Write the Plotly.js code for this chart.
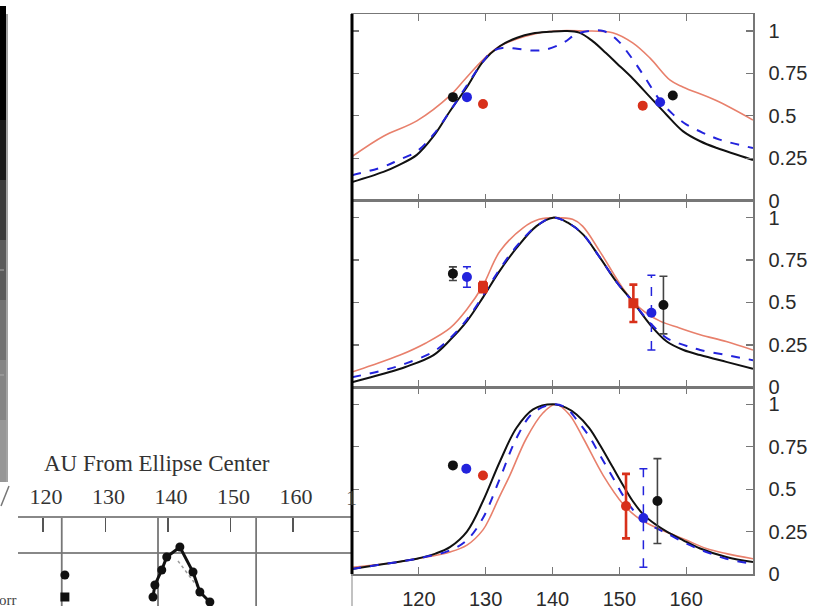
<!DOCTYPE html>
<html>
<head>
<meta charset="utf-8">
<script src="https://cdn.plot.ly/plotly-3.0.1.min.js"></script>
<style>
  html, body { margin: 0; padding: 0; background: #fff; }
  #chart { width: 817px; height: 606px; }
</style>
</head>
<body>
<div id="chart"></div>
<script>
// ---- shared ticks ----
const xTicks = [120, 130, 140, 150, 160];
const yTicks = [0, 0.25, 0.5, 0.75, 1];
const yTickText = ['0', '0.25', '0.5', '0.75', '1'];

// ---- panel 1 (top) model profiles ----
const p1BlackX = [110, 114.7, 117, 119.7, 122.2, 124.7, 127.2, 129.6, 132.1, 134.7, 137, 139.6, 142, 144, 146, 148, 149.6, 152, 154.6, 157.1, 159.5, 162.1, 164.6, 170];
const p1BlackY = [0.11, 0.17, 0.21, 0.27, 0.38, 0.53, 0.67, 0.82, 0.91, 0.96, 0.985, 0.995, 1.0, 0.99, 0.94, 0.87, 0.81, 0.72, 0.61, 0.505, 0.41, 0.35, 0.31, 0.24];
const p1BlueX = [110, 114.7, 117, 119.7, 122.2, 124.7, 127.2, 129.6, 131, 132.5, 134.7, 137, 139, 141.6, 143.5, 145.5, 147.6, 149.6, 151.5, 153.6, 156.1, 158, 160, 162.5, 165, 170];
const p1BlueY = [0.15, 0.20, 0.24, 0.29, 0.39, 0.53, 0.68, 0.82, 0.88, 0.90, 0.895, 0.885, 0.89, 0.93, 0.98, 1.0, 1.0, 0.95, 0.86, 0.74, 0.59, 0.51, 0.45, 0.40, 0.36, 0.31];
const p1RedX = [110, 114.7, 119.7, 124.7, 127, 129.6, 132.1, 137, 140.5, 144.5, 149, 152, 154.6, 157.6, 159.5, 164.5, 170];
const p1RedY = [0.26, 0.38, 0.47, 0.62, 0.72, 0.83, 0.91, 0.98, 1.0, 1.0, 0.99, 0.93, 0.84, 0.71, 0.67, 0.59, 0.475];
// panel 1 measured points
const p1PtBlackX = [125.1, 158.0], p1PtBlackY = [0.61, 0.62], p1PtBlackErr = [0, 0];
const p1PtBlueX = [127.2, 156.1], p1PtBlueY = [0.61, 0.58], p1PtBlueErr = [0, 0];
const p1PtRedX = [129.6, 153.5], p1PtRedY = [0.57, 0.56], p1PtRedErr = [0, 0];

// ---- panel 2 (middle) model profiles ----
const p2BlackX = [110, 114.7, 118, 122.2, 124.7, 127.2, 129.6, 132, 134.6, 137.6, 140.1, 142.3, 144.6, 147, 149.6, 152.1, 154.6, 157.1, 159.6, 162.1, 166, 170];
const p2BlackY = [0.03, 0.08, 0.12, 0.19, 0.28, 0.39, 0.53, 0.68, 0.82, 0.95, 1.0, 0.97, 0.90, 0.77, 0.62, 0.50, 0.37, 0.27, 0.22, 0.19, 0.15, 0.11];
const p2BlueX = [110, 114.7, 118, 122.2, 124.7, 127.2, 129.6, 132, 134.6, 137.6, 140.1, 142.3, 144.6, 147, 149.6, 152.1, 154.6, 157.1, 159.6, 162.1, 166, 170];
const p2BlueY = [0.06, 0.10, 0.14, 0.21, 0.29, 0.40, 0.54, 0.69, 0.83, 0.95, 1.0, 0.97, 0.90, 0.77, 0.62, 0.50, 0.38, 0.29, 0.25, 0.22, 0.19, 0.16];
const p2RedX = [110, 113, 117.2, 121, 124.7, 127.2, 129.6, 132.1, 135.6, 138, 140.5, 143, 144.5, 147.1, 150.6, 153, 156.1, 159, 162.1, 166, 170];
const p2RedY = [0.09, 0.13, 0.19, 0.26, 0.35, 0.46, 0.60, 0.80, 0.94, 0.99, 1.0, 0.99, 0.95, 0.80, 0.58, 0.47, 0.39, 0.35, 0.31, 0.27, 0.22];
// panel 2 measured points
const p2PtBlackX = [125.1, 156.6], p2PtBlackY = [0.67, 0.485], p2PtBlackErr = [0.04, 0.17];
const p2PtBlueX = [127.2, 154.8], p2PtBlueY = [0.65, 0.44], p2PtBlueErr = [0.06, 0.22];
const p2PtRedX = [129.6, 152.1], p2PtRedY = [0.59, 0.495], p2PtRedErr = [0.03, 0.11];

// ---- panel 3 (bottom) model profiles ----
const p3BlackX = [110, 115, 119.7, 122.5, 124.7, 127.2, 129.6, 132.1, 134.6, 137.1, 140.1, 142, 143.6, 145.5, 147.1, 149, 150.6, 152, 153.6, 155.5, 157.1, 159.5, 162.1, 166, 170];
const p3BlackY = [0.03, 0.06, 0.09, 0.12, 0.16, 0.25, 0.43, 0.66, 0.86, 0.97, 1.0, 0.98, 0.94, 0.86, 0.76, 0.63, 0.52, 0.43, 0.35, 0.29, 0.25, 0.20, 0.15, 0.10, 0.07];
const p3BlueX = [110, 115, 119.7, 124.7, 127.2, 129.6, 132.1, 134.6, 137.1, 140.1, 142, 143.6, 145.5, 147.1, 149, 150.6, 152, 153.6, 155.5, 157.1, 160, 163, 166, 170];
const p3BlueY = [0.03, 0.06, 0.09, 0.14, 0.20, 0.33, 0.56, 0.80, 0.95, 1.0, 0.98, 0.91, 0.81, 0.70, 0.57, 0.46, 0.38, 0.32, 0.27, 0.24, 0.18, 0.13, 0.09, 0.06];
const p3RedX = [110, 115, 119.7, 124.7, 127.2, 129.6, 130.6, 132, 133.6, 136.1, 138.6, 140.5, 142.5, 144.6, 147.6, 150.6, 152.5, 154.6, 157.5, 160, 163, 166, 170];
const p3RedY = [0.04, 0.06, 0.09, 0.13, 0.17, 0.26, 0.33, 0.45, 0.58, 0.80, 0.95, 1.0, 0.94, 0.80, 0.58, 0.41, 0.34, 0.29, 0.24, 0.20, 0.15, 0.12, 0.09];
// panel 3 measured points
const p3PtBlackX = [125.1, 155.7], p3PtBlackY = [0.64, 0.43], p3PtBlackErr = [0, 0.25];
const p3PtBlueX = [127.1, 153.6], p3PtBlueY = [0.62, 0.33], p3PtBlueErr = [0, 0.29];
const p3PtRedX = [129.6, 151.0], p3PtRedY = [0.58, 0.40], p3PtRedErr = [0, 0.19];

// ---- left inset: brightness cut vs. AU from ellipse center ----
const leftTicks = [120, 130, 140, 150, 160];
const leftCutX = [137.6, 137.9, 139.0, 139.8, 141.9, 144.0, 145.1, 146.7];
const leftCutY = [0.56, 0.68, 0.83, 0.96, 1.06, 0.81, 0.61, 0.51];
const leftModelX = [141.6, 144.0, 146.7];
const leftModelY = [0.92, 0.72, 0.50];
const leftKeyX = [123.5, 123.5];
const leftKeyY = [0.78, 0.56];
const leftKeySymbols = ['circle', 'square'];
const leftRefLinesX = [123.0, 138.4, 154.1];

// ---- styling ----
const BLACK = '#111111', BLUE = '#2323dc', RED_LINE = '#e8806c', RED_PT = '#d8301a';
const W = 817, H = 606;
const px = v => v / W;           // pixel column -> paper fraction
const py = v => 1 - v / H;       // pixel row -> paper fraction

const panels = [
  {ax: '', bx: p1BlackX, by: p1BlackY, ux: p1BlueX, uy: p1BlueY, rx: p1RedX, ry: p1RedY,
   pk: [p1PtBlackX, p1PtBlackY, p1PtBlackErr], pb: [p1PtBlueX, p1PtBlueY, p1PtBlueErr], pr: [p1PtRedX, p1PtRedY, p1PtRedErr], redSym: 'circle'},
  {ax: '2', bx: p2BlackX, by: p2BlackY, ux: p2BlueX, uy: p2BlueY, rx: p2RedX, ry: p2RedY,
   pk: [p2PtBlackX, p2PtBlackY, p2PtBlackErr], pb: [p2PtBlueX, p2PtBlueY, p2PtBlueErr], pr: [p2PtRedX, p2PtRedY, p2PtRedErr], redSym: 'square'},
  {ax: '3', bx: p3BlackX, by: p3BlackY, ux: p3BlueX, uy: p3BlueY, rx: p3RedX, ry: p3RedY,
   pk: [p3PtBlackX, p3PtBlackY, p3PtBlackErr], pb: [p3PtBlueX, p3PtBlueY, p3PtBlueErr], pr: [p3PtRedX, p3PtRedY, p3PtRedErr], redSym: 'circle'}
];

const traces = [];
panels.forEach(p => {
  const xa = 'x' + p.ax, ya = 'y' + p.ax;
  const lineTrace = (x, y, color, width, dash) => ({
    x, y, xaxis: xa, yaxis: ya, type: 'scatter', mode: 'lines',
    line: {color, width, dash, shape: 'spline', smoothing: 1.0}, hoverinfo: 'skip'
  });
  traces.push(lineTrace(p.rx, p.ry, RED_LINE, 1.6, 'solid'));
  traces.push(lineTrace(p.bx, p.by, BLACK, 2, 'solid'));
  traces.push(lineTrace(p.ux, p.uy, BLUE, 2, 'dash'));

  // dashed blue error bars with solid caps, built from the point arrays
  const stemX = [], stemY = [], capX = [], capY = [];
  p.pb[0].forEach((x, i) => {
    const y = p.pb[1][i], e = p.pb[2][i];
    if (e > 0) {
      stemX.push(x, x, null); stemY.push(y - e, y + e, null);
      capX.push(x - 0.6, x + 0.6, null, x - 0.6, x + 0.6, null);
      capY.push(y + e, y + e, null, y - e, y - e, null);
    }
  });
  traces.push({x: stemX, y: stemY, xaxis: xa, yaxis: ya, type: 'scatter', mode: 'lines',
    line: {color: BLUE, width: 1.5, dash: 'dash'}, hoverinfo: 'skip'});
  traces.push({x: capX, y: capY, xaxis: xa, yaxis: ya, type: 'scatter', mode: 'lines',
    line: {color: BLUE, width: 1.5}, hoverinfo: 'skip'});

  const pts = (d, color, sym, errColor, errW) => ({
    x: d[0], y: d[1], xaxis: xa, yaxis: ya, type: 'scatter', mode: 'markers',
    marker: {color, size: 10, symbol: sym},
    error_y: {type: 'data', array: d[2], visible: true, color: errColor, thickness: errW, width: 4},
    hoverinfo: 'skip'
  });
  traces.push(pts(p.pr, RED_PT, p.redSym, RED_PT, 2.6));
  traces.push(pts(p.pk, BLACK, 'circle', '#444', 1.6));
  traces.push({x: p.pb[0], y: p.pb[1], xaxis: xa, yaxis: ya, type: 'scatter', mode: 'markers',
    marker: {color: BLUE, size: 10}, hoverinfo: 'skip'});
});

// left inset traces
traces.push({x: leftModelX, y: leftModelY, xaxis: 'x4', yaxis: 'y4', type: 'scatter', mode: 'lines',
  line: {color: '#999', width: 1.5, dash: 'dot'}, hoverinfo: 'skip'});
traces.push({x: leftCutX, y: leftCutY, xaxis: 'x4', yaxis: 'y4', type: 'scatter', mode: 'lines+markers',
  line: {color: BLACK, width: 3}, marker: {color: BLACK, size: 9}, hoverinfo: 'skip'});
traces.push({x: leftKeyX, y: leftKeyY, xaxis: 'x4', yaxis: 'y4', type: 'scatter', mode: 'markers',
  marker: {color: BLACK, size: 9, symbol: leftKeySymbols}, hoverinfo: 'skip'});

// ---- axes ----
const X0 = 352, X1 = 753, TOP = 14, BOT = 574;
const ph = (BOT - TOP) / 3;
const tickFont = {family: 'Liberation Sans, Arial, sans-serif', size: 20, color: '#2a2a2a'};

function xAxis(yAnchor, showLabels) {
  return {
    domain: [px(X0), px(X1)], anchor: yAnchor, range: [110, 170],
    tickvals: xTicks, ticktext: xTicks.map(String), ticks: 'inside', ticklen: 7, tickwidth: 1.3, tickcolor: '#777',
    mirror: 'allticks', showline: true, linecolor: '#777', linewidth: 1.5,
    showgrid: false, zeroline: false, showticklabels: showLabels, tickfont: tickFont,
    ticklabelstandoff: 6
  };
}
function yAxis(xAnchor, i) {
  const top = TOP + ph * i, bot = TOP + ph * (i + 1);
  return {
    domain: [py(bot), py(top)], anchor: xAnchor, side: 'right', range: [0, 1.1],
    tickvals: yTicks, ticktext: yTickText, ticks: 'inside', ticklen: 7, tickwidth: 1.3, tickcolor: '#777',
    mirror: 'allticks', showline: true, linecolor: '#777', linewidth: 1.5,
    showgrid: false, zeroline: false, tickfont: tickFont, ticklabelstandoff: 10
  };
}

const LX0 = 18, LX1 = 352, LTOP = 518;
const serif = 'Liberation Serif, Times New Roman, serif';

const layout = {
  width: W, height: H,
  margin: {l: 0, r: 0, t: 0, b: 0},
  paper_bgcolor: '#fff', plot_bgcolor: 'rgba(0,0,0,0)',
  showlegend: false,
  font: {family: 'Liberation Sans, Arial, sans-serif'},
  xaxis: xAxis('y', false), yaxis: yAxis('x', 0),
  xaxis2: xAxis('y2', false), yaxis2: yAxis('x2', 1),
  xaxis3: xAxis('y3', true), yaxis3: yAxis('x3', 2),
  xaxis4: {
    domain: [px(LX0), px(LX1)], anchor: 'y4', side: 'top', range: [116, 169.44],
    tickvals: leftTicks, ticktext: leftTicks.map(String), ticks: 'inside', ticklen: 14, tickwidth: 1.6,
    tickcolor: '#555', showline: true, linecolor: '#888', linewidth: 2.2,
    showgrid: false, zeroline: false,
    tickfont: {family: serif, size: 22, color: '#333'}, ticklabelstandoff: 3, ticklabelshift: 3
  },
  yaxis4: {domain: [0, py(LTOP)], anchor: 'x4', range: [0.47, 1.35], visible: false},
  shapes: [],
  annotations: [
    {text: 'AU From Ellipse Center', xref: 'paper', yref: 'paper', x: px(157), y: py(463),
     xanchor: 'center', yanchor: 'middle', showarrow: false, font: {family: serif, size: 23, color: '#333'}},
    {text: '1', xref: 'paper', yref: 'paper', x: px(344), y: py(498),
     xanchor: 'left', yanchor: 'middle', showarrow: false, font: {family: serif, size: 22, color: '#333'}},
    {text: 'Corr', xref: 'paper', yref: 'paper', x: px(19), y: py(600),
     xanchor: 'right', yanchor: 'middle', showarrow: false, font: {family: serif, size: 15, color: '#444'}}
  ]
};

// inset reference lines
layout.shapes.push({type: 'line', xref: 'x4 domain', yref: 'y4', x0: 0, x1: 1, y0: 1, y1: 1,
  line: {color: '#888', width: 2.2}, layer: 'below'});
leftRefLinesX.forEach(x => layout.shapes.push({type: 'line', xref: 'x4', yref: 'y4 domain',
  x0: x, x1: x, y0: 0, y1: 1, line: {color: '#777', width: 1.8}, layer: 'below'}));

// frame edge of the left figure: dark bar fading to grey
const barShades = [['#000', 0, 120], ['#1a1a1a', 120, 180], ['#3c3c3c', 180, 240], ['#5a5a5a', 240, 300],
                   ['#717171', 300, 360], ['#858585', 360, 420], ['#979797', 420, 482]];
barShades.forEach(([c, a, b]) => layout.shapes.push({type: 'rect', xref: 'paper', yref: 'paper',
  x0: px(0), x1: px(6), y0: py(b), y1: py(a + (a === 0 ? 6 : 0)), fillcolor: c, line: {width: 0}}));
layout.shapes.push({type: 'line', xref: 'paper', yref: 'paper', x0: px(7), x1: px(7), y0: py(482), y1: py(14),
  line: {color: '#666', width: 1.2}});
layout.shapes.push({type: 'line', xref: 'paper', yref: 'paper', x0: px(1), x1: px(9), y0: py(506), y1: py(486),
  line: {color: '#777', width: 1.5}});
[270, 375].forEach(r => layout.shapes.push({type: 'line', xref: 'paper', yref: 'paper',
  x0: px(0), x1: px(4), y0: py(r), y1: py(r), line: {color: '#aaa', width: 1}}));

// heavy left edge of the profile panels
layout.shapes.push({type: 'line', xref: 'paper', yref: 'paper', x0: px(X0), x1: px(X0), y0: py(BOT), y1: py(TOP),
  line: {color: '#000', width: 3}});
layout.shapes.push({type: 'line', xref: 'paper', yref: 'paper', x0: px(X0), x1: px(X0), y0: py(H), y1: py(BOT),
  line: {color: '#999', width: 1.2}});

Plotly.newPlot('chart', traces, layout, {staticPlot: true, displayModeBar: false});
</script>
</body>
</html>
